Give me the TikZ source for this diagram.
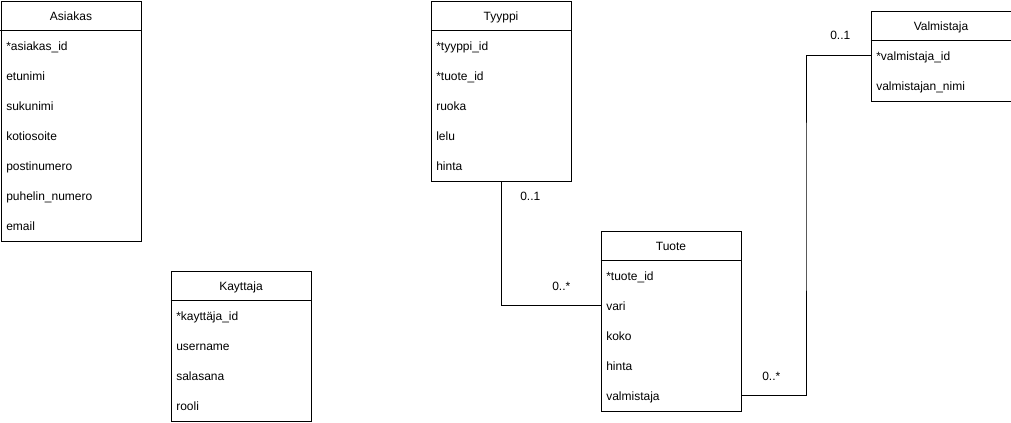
\documentclass[tikz,border=0pt]{standalone}
\usepackage{fontspec}
\setmainfont{Liberation Sans}
\usetikzlibrary{calc}
\tikzset{
  entity/.style={draw=black, line width=0.75pt, minimum width=105pt, inner sep=0pt, anchor=north west},
  sep/.style={draw=black, line width=0.75pt},
  head/.style={anchor=base, inner sep=0pt, font=\fontsize{9}{11}\selectfont},
  attr/.style={anchor=base west, inner sep=0pt, font=\fontsize{9}{11}\selectfont},
  link/.style={draw=black, line width=0.75pt},
  mult/.style={anchor=base west, inner sep=0pt, font=\fontsize{9}{11}\selectfont},
}

\begin{document}
\begin{tikzpicture}[x=0.75pt,y=-0.75pt]
  \useasboundingbox (0,0) rectangle (1011,422);

  % Asiakas
  \node[entity, minimum height=180pt] (asiakas) at (0.5,0.5) {};
  \node[head] (asiakas-h) at ($(asiakas.north)+(0,19.5)$) {Asiakas};
  \draw[sep] ($(asiakas.north west)+(0,30)$) -- ($(asiakas.north east)+(0,30)$);
  \foreach \t [count=\i] in {*asiakas\_id, etunimi, sukunimi, kotiosoite, postinumero, puhelin\_numero, email} {
    \coordinate (asiakas-r\i) at ($(asiakas.north west)+(0,15+30*\i)$);
    \node[attr] (asiakas-\i) at ($(asiakas-r\i)+(5.5,4.5)$) {\t};
  }

  % Kayttaja
  \node[entity, minimum height=112.5pt] (kayttaja) at (170.5,270.5) {};
  \node[head] (kayttaja-h) at ($(kayttaja.north)+(0,19.5)$) {Kayttaja};
  \draw[sep] ($(kayttaja.north west)+(0,30)$) -- ($(kayttaja.north east)+(0,30)$);
  \foreach \t [count=\i] in {*kayttäja\_id, username, salasana, rooli} {
    \coordinate (kayttaja-r\i) at ($(kayttaja.north west)+(0,15+30*\i)$);
    \node[attr] (kayttaja-\i) at ($(kayttaja-r\i)+(5.5,4.5)$) {\t};
  }

  % Tyyppi
  \node[entity, minimum height=135pt] (tyyppi) at (430.5,0.5) {};
  \node[head] (tyyppi-h) at ($(tyyppi.north)+(0,19.5)$) {Tyyppi};
  \draw[sep] ($(tyyppi.north west)+(0,30)$) -- ($(tyyppi.north east)+(0,30)$);
  \foreach \t [count=\i] in {*tyyppi\_id, *tuote\_id, ruoka, lelu, hinta} {
    \coordinate (tyyppi-r\i) at ($(tyyppi.north west)+(0,15+30*\i)$);
    \node[attr] (tyyppi-\i) at ($(tyyppi-r\i)+(5.5,4.5)$) {\t};
  }

  % Tuote
  \node[entity, minimum height=135pt] (tuote) at (600.5,230.5) {};
  \node[head] (tuote-h) at ($(tuote.north)+(0,19.5)$) {Tuote};
  \draw[sep] ($(tuote.north west)+(0,30)$) -- ($(tuote.north east)+(0,30)$);
  \foreach \t [count=\i] in {*tuote\_id, vari, koko, hinta, valmistaja} {
    \coordinate (tuote-r\i) at ($(tuote.north west)+(0,15+30*\i)$);
    \node[attr] (tuote-\i) at ($(tuote-r\i)+(5.5,4.5)$) {\t};
  }

  % Valmistaja
  \node[entity, minimum height=67.5pt] (valmistaja) at (870.5,10.5) {};
  \node[head] (valmistaja-h) at ($(valmistaja.north)+(0,19.5)$) {Valmistaja};
  \draw[sep] ($(valmistaja.north west)+(0,30)$) -- ($(valmistaja.north east)+(0,30)$);
  \foreach \t [count=\i] in {*valmistaja\_id, valmistajan\_nimi} {
    \coordinate (valmistaja-r\i) at ($(valmistaja.north west)+(0,15+30*\i)$);
    \node[attr] (valmistaja-\i) at ($(valmistaja-r\i)+(5.5,4.5)$) {\t};
  }

  % Tyyppi -- Tuote
  \draw[link] (tyyppi.south) |- (tuote-r2);
  \node[mult] (m-tyyppi) at (520,200) {0..1};
  \node[mult] (m-tuote1) at (552,290) {0..*};

  % Tuote -- Valmistaja
  \coordinate (bend) at ($(tuote.east)!0.5!(valmistaja.west)$);
  \coordinate (tuote-e5) at (tuote.east |- tuote-r5);
  \draw[link] (tuote-e5) -| (bend) |- (valmistaja-r1);
  \node[mult] (m-tuote2) at (762,380) {0..*};
  \node[mult] (m-valm) at (830,39) {0..1};
\end{tikzpicture}
\end{document}
